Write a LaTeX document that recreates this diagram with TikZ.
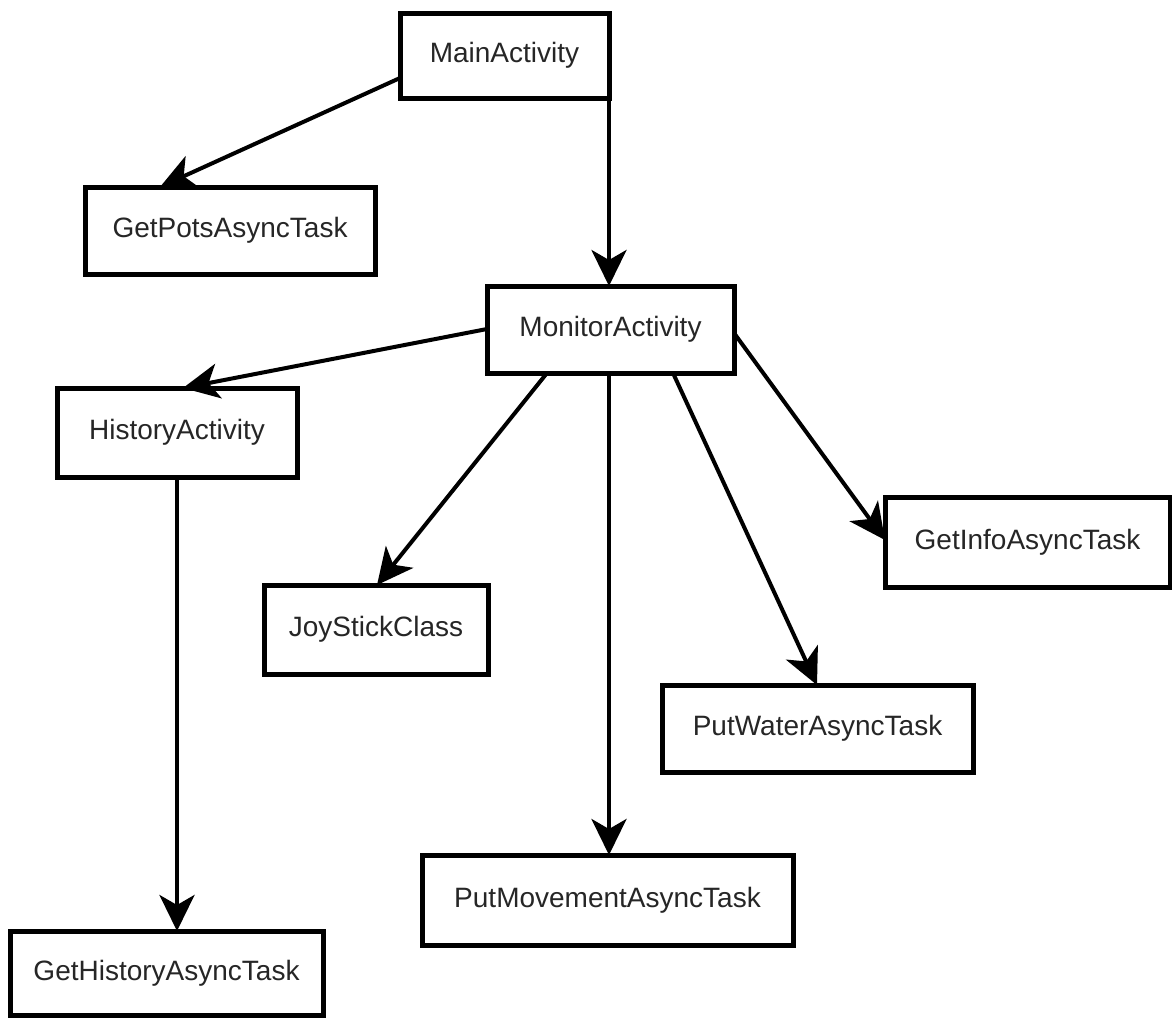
\documentclass[tikz,border=0pt]{standalone}
\usepackage{fontspec}
\setmainfont{Liberation Sans}
\usetikzlibrary{arrows.meta}
\begin{document}
\begin{tikzpicture}[x=1pt,y=-1pt,
  box/.style={draw=black, line width=5pt, fill=white, inner sep=0pt, outer sep=0pt,
    font=\fontsize{28}{32}\selectfont, text=black!85},
  link/.style={line width=4pt, draw=black,
    -{Stealth[length=36pt,width=35pt,inset=10pt]}}]
\useasboundingbox (0,0) rectangle (1172,1018);
\fill[white] (0,0) rectangle (1172,1018);

% classes
\node[box, minimum width=209, minimum height=85] (main)      at (504.5,55.5) {MainActivity};
\node[box, minimum width=290, minimum height=87] (getpots)   at (230,230.5)  {GetPotsAsyncTask};
\node[box, minimum width=247, minimum height=87] (monitor)   at (610.5,329.5) {MonitorActivity};
\node[box, minimum width=240, minimum height=89] (history)   at (177,432.5)  {HistoryActivity};
\node[box, minimum width=224, minimum height=89] (joystick)  at (376,629.5)  {JoyStickClass};
\node[box, minimum width=285, minimum height=90] (getinfo)   at (1027.5,542) {GetInfoAsyncTask};
\node[box, minimum width=311, minimum height=87] (putwater)  at (817.5,728.5) {PutWaterAsyncTask};
\node[box, minimum width=371, minimum height=90] (putmove)   at (607.5,900)  {PutMovementAsyncTask};
\node[box, minimum width=313, minimum height=84] (gethist)   at (166.5,973)  {GetHistoryAsyncTask};

% usage links
\draw[link] (main.west |- 0,78) -- (getpots.north -| 160,0);
\draw[link] (main.south east) -- (monitor.north -| 609,0);
\draw[link] (monitor.west |- 0,329) -- (history.north -| 183,0);
\draw[link] (monitor.east |- 0,333) -- (getinfo.west |- 0,540);
\draw[link] (history.south) -- (gethist.north -| 177,0);
\draw[link] (monitor.south -| 547,0) -- (joystick.north -| 377,0);
\draw[link] (monitor.south -| 609,0) -- (putmove.north -| 609,0);
\draw[link] (monitor.south -| 673,0) -- (putwater.north -| 817,0);
\end{tikzpicture}
\end{document}
